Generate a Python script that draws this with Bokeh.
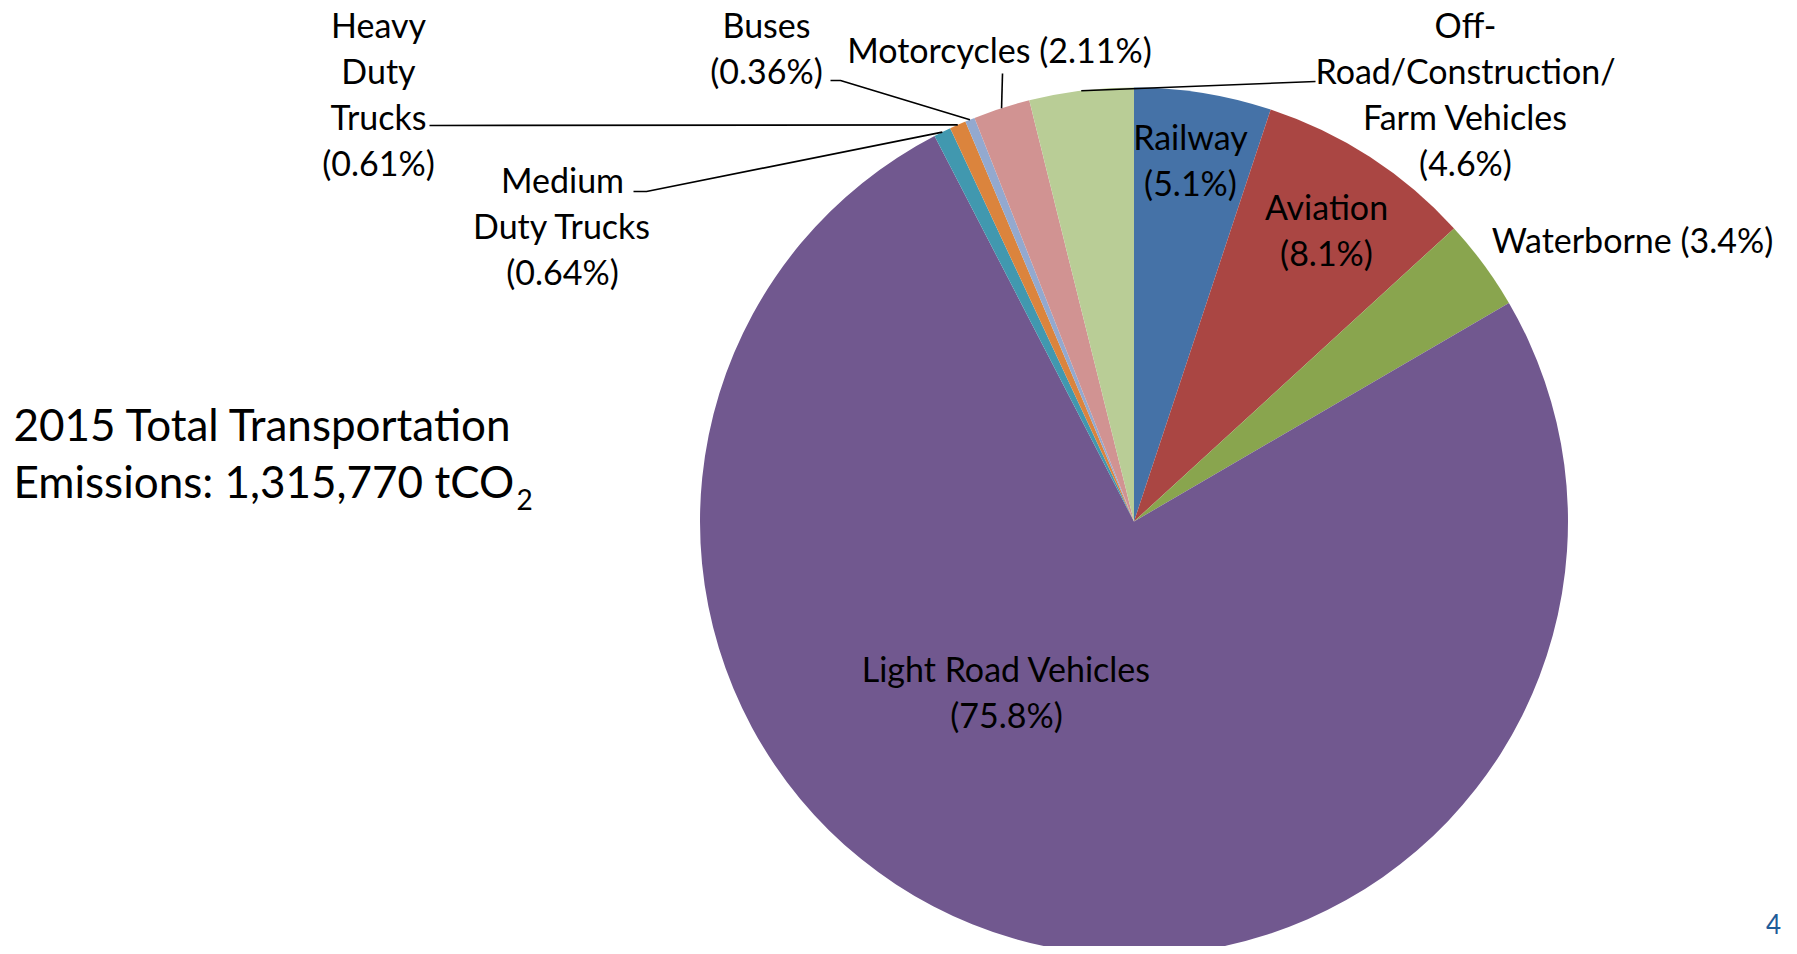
import math
from bokeh.plotting import figure
from bokeh.models import Range1d, ColumnDataSource
from bokeh.core.properties import value
from bokeh.embed import file_html
from bokeh.resources import INLINE

# ---------------- data ----------------
categories = ["Railway", "Aviation", "Waterborne", "Light Road Vehicles",
              "Medium Duty Trucks", "Heavy Duty Trucks", "Buses",
              "Motorcycles", "Off-Road/Construction/Farm Vehicles"]
shares = [5.1, 8.1, 3.4, 75.8, 0.64, 0.61, 0.36, 2.11, 3.88]   # slice sizes as drawn
label_pcts = ["5.1%", "8.1%", "3.4%", "75.8%", "0.64%", "0.61%", "0.36%", "2.11%", "4.6%"]
label_lines = [
    ["Railway", "(5.1%)"],
    ["Aviation", "(8.1%)"],
    ["Waterborne (3.4%)"],
    ["Light Road Vehicles", "(75.8%)"],
    ["Medium", "Duty Trucks", "(0.64%)"],
    ["Heavy", "Duty", "Trucks", "(0.61%)"],
    ["Buses", "(0.36%)"],
    ["Motorcycles (2.11%)"],
    ["Off-", "Road/Construction/", "Farm Vehicles", "(4.6%)"],
]
colors = ["#4572A7", "#AA4643", "#89A54E", "#71588F", "#4198AF",
          "#DB843D", "#93A9CF", "#D19392", "#B9CD96"]
title_lines = ["2015 Total Transportation", "Emissions: 1,315,770 tCO"]
title_sub = "2"
page_number = "4"

# ---------------- layout ----------------
PAGE_H = 954
ORIGIN = 1          # observed page offset of the canvas
W, H = 1782, 946
FONT = "Lato"
LABEL_SIZE = "34px"
LINE_GAP = 46

def Y(ref_y):
    return PAGE_H - ref_y

cx, cy, R = 1134.5, Y(522), 434

p = figure(width=W, height=H, output_backend="svg", toolbar_location=None,
           x_range=Range1d(ORIGIN, ORIGIN + W),
           y_range=Range1d(PAGE_H - ORIGIN - H, PAGE_H - ORIGIN),
           min_border=0, tools="")
p.axis.visible = False
p.grid.visible = False
p.outline_line_color = None
p.background_fill_color = "white"
p.border_fill_color = "white"

total = sum(shares)
starts, ends, mids = [], [], []
cum = 0.0
for s in shares:
    a0 = math.pi / 2 - cum / total * 2 * math.pi
    cum += s
    a1 = math.pi / 2 - cum / total * 2 * math.pi
    starts.append(a0)
    ends.append(a1)
    mids.append((a0 + a1) / 2)

src = ColumnDataSource(dict(cat=categories, start=starts, end=ends, color=colors,
                            x=[cx] * len(shares), y=[cy] * len(shares)))
p.wedge(x="x", y="y", radius=R, start_angle="start", end_angle="end",
        direction="clock", fill_color="color", line_color=None, source=src)

# label anchors (center of first line, page px)
anchors = {
    "Railway": (1191, 137),
    "Aviation": (1327, 207),
    "Waterborne": (1633, 240),
    "Light Road Vehicles": (1007, 669),
    "Medium Duty Trucks": (563, 180),
    "Heavy Duty Trucks": (379, 25),
    "Buses": (767, 25),
    "Motorcycles": (1000, 50),
    "Off-Road/Construction/Farm Vehicles": (1466, 25),
}
tx, ty, tt = [], [], []
for cat, lines in zip(categories, label_lines):
    ax, ay = anchors[cat]
    for k, ln in enumerate(lines):
        tx.append(ax)
        ty.append(Y(ay + k * LINE_GAP))
        tt.append(ln)
p.text(x=tx, y=ty, text=tt, text_align="center", text_baseline="middle",
       text_font=value(FONT), text_font_size=LABEL_SIZE, text_color="black")

# leader lines: from text to the slice edge
leader_start = {
    "Medium Duty Trucks": [(634, 192), (647, 192)],
    "Heavy Duty Trucks": [(430, 126)],
    "Buses": [(831, 81), (841, 81)],
    "Motorcycles": [(1003, 74)],
    "Off-Road/Construction/Farm Vehicles": [(1316, 82)],
}
for i, cat in enumerate(categories):
    if cat not in leader_start:
        continue
    pts = leader_start[cat]
    xs = [q[0] for q in pts]
    ys = [Y(q[1]) for q in pts]
    m = mids[i]
    xs.append(cx + R * math.cos(m))
    ys.append(cy + R * math.sin(m))
    p.line(xs, ys, line_color="black", line_width=1.6)

# title block
p.text(x=[14, 14], y=[Y(424), Y(481)], text=title_lines, text_align="left",
       text_baseline="middle", text_font=value(FONT), text_font_size="44px",
       text_color="black")
p.text(x=[517], y=[Y(500)], text=[title_sub], text_align="left",
       text_baseline="middle", text_font=value(FONT), text_font_size="28px",
       text_color="black")

# page number
p.text(x=[1774], y=[Y(924)], text=[page_number], text_align="center",
       text_baseline="middle", text_font=value(FONT), text_font_size="26px",
       text_color="#1F5C99")

open("out.html", "w").write(file_html(p, INLINE))
